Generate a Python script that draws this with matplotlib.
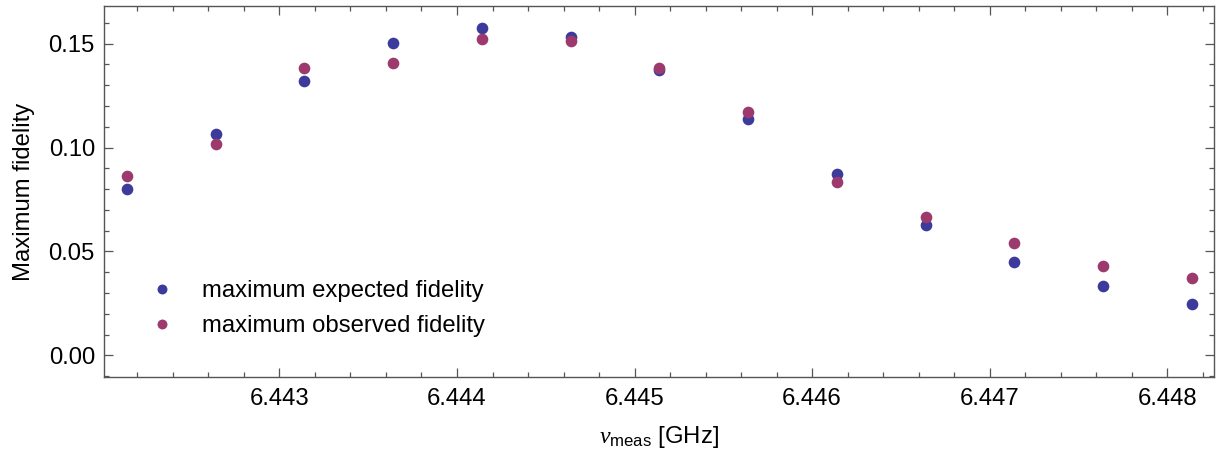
import matplotlib
matplotlib.use("Agg")
import matplotlib.pyplot as plt
from matplotlib.ticker import MultipleLocator, FixedLocator

plt.rcParams['font.family'] = ['Liberation Sans', 'DejaVu Sans']
plt.rcParams['mathtext.fontset'] = 'custom'
plt.rcParams['mathtext.rm'] = 'Liberation Sans'
plt.rcParams['mathtext.it'] = 'Liberation Serif:italic'

# measurement frequencies [GHz]
freq_ghz = [6.44214, 6.44264, 6.44314, 6.44364, 6.44414, 6.44464, 6.44514,
            6.44564, 6.44614, 6.44664, 6.44714, 6.44764, 6.44814]
expected_fidelity = [0.0799, 0.1067, 0.1318, 0.1501, 0.1576, 0.1533, 0.1372,
                     0.1136, 0.0873, 0.0628, 0.0448, 0.0334, 0.0247]
observed_fidelity = [0.0864, 0.1019, 0.1382, 0.1406, 0.1523, 0.1512, 0.1382,
                     0.1169, 0.0835, 0.0666, 0.0539, 0.0432, 0.0372]
x_ticks = [6.443, 6.444, 6.445, 6.446, 6.447, 6.448]
y_ticks = [0.00, 0.05, 0.10, 0.15]

blue = '#3c3b9c'
purple = '#9c3a6e'
frame = '#555555'
fs = 17.2

W, H, dpi = 1223, 457, 100
fig = plt.figure(figsize=(W / dpi, H / dpi), dpi=dpi)
left, right, top, bottom = 103.7, 1214.4, 6.5, 376.7
ax = fig.add_axes([left / W, 1 - bottom / H, (right - left) / W, (bottom - top) / H])

ax.plot(freq_ghz, expected_fidelity, 'o', color=blue, ms=8.4, mec='none',
        label='maximum expected fidelity')
ax.plot(freq_ghz, observed_fidelity, 'o', color=purple, ms=8.4, mec='none',
        label='maximum observed fidelity')

ax.set_xlim(6.44201, 6.448266)
ax.set_ylim(-0.0103, 0.1679)

ax.xaxis.set_major_locator(FixedLocator(x_ticks))
ax.set_xticklabels([f'{v:.3f}' for v in x_ticks])
ax.xaxis.set_minor_locator(MultipleLocator(0.0002))
ax.yaxis.set_major_locator(FixedLocator(y_ticks))
ax.set_yticklabels([f'{v:.2f}' for v in y_ticks])
ax.yaxis.set_minor_locator(MultipleLocator(0.01))

for s in ax.spines.values():
    s.set_color(frame)
    s.set_linewidth(1.0)

ax.tick_params(which='both', direction='in', top=True, right=True,
               color=frame, width=0.9, labelsize=fs, labelcolor='black')
ax.tick_params(which='major', length=6.5)
ax.tick_params(which='minor', length=3.6)
ax.tick_params(axis='x', which='major', pad=8)
ax.tick_params(axis='y', which='major', pad=6.3)

ax.set_xlabel(r'$\nu_{\mathrm{meas}}$ [GHz]', fontsize=fs, labelpad=10)
ax.set_ylabel('Maximum fidelity', fontsize=fs, labelpad=10)

# legend anchored in pixel space relative to the axes
ax_w, ax_h = right - left, bottom - top
anchor_x = (150.5 - left) / ax_w
anchor_y = (bottom - 280) / ax_h
ax.legend(loc='upper left', bbox_to_anchor=(anchor_x, anchor_y), frameon=False,
          fontsize=fs, handlelength=1.0, handletextpad=1.144, borderpad=0,
          borderaxespad=0, labelspacing=0.55, numpoints=1, markerscale=0.85)

fig.savefig('out.png', dpi=dpi)
